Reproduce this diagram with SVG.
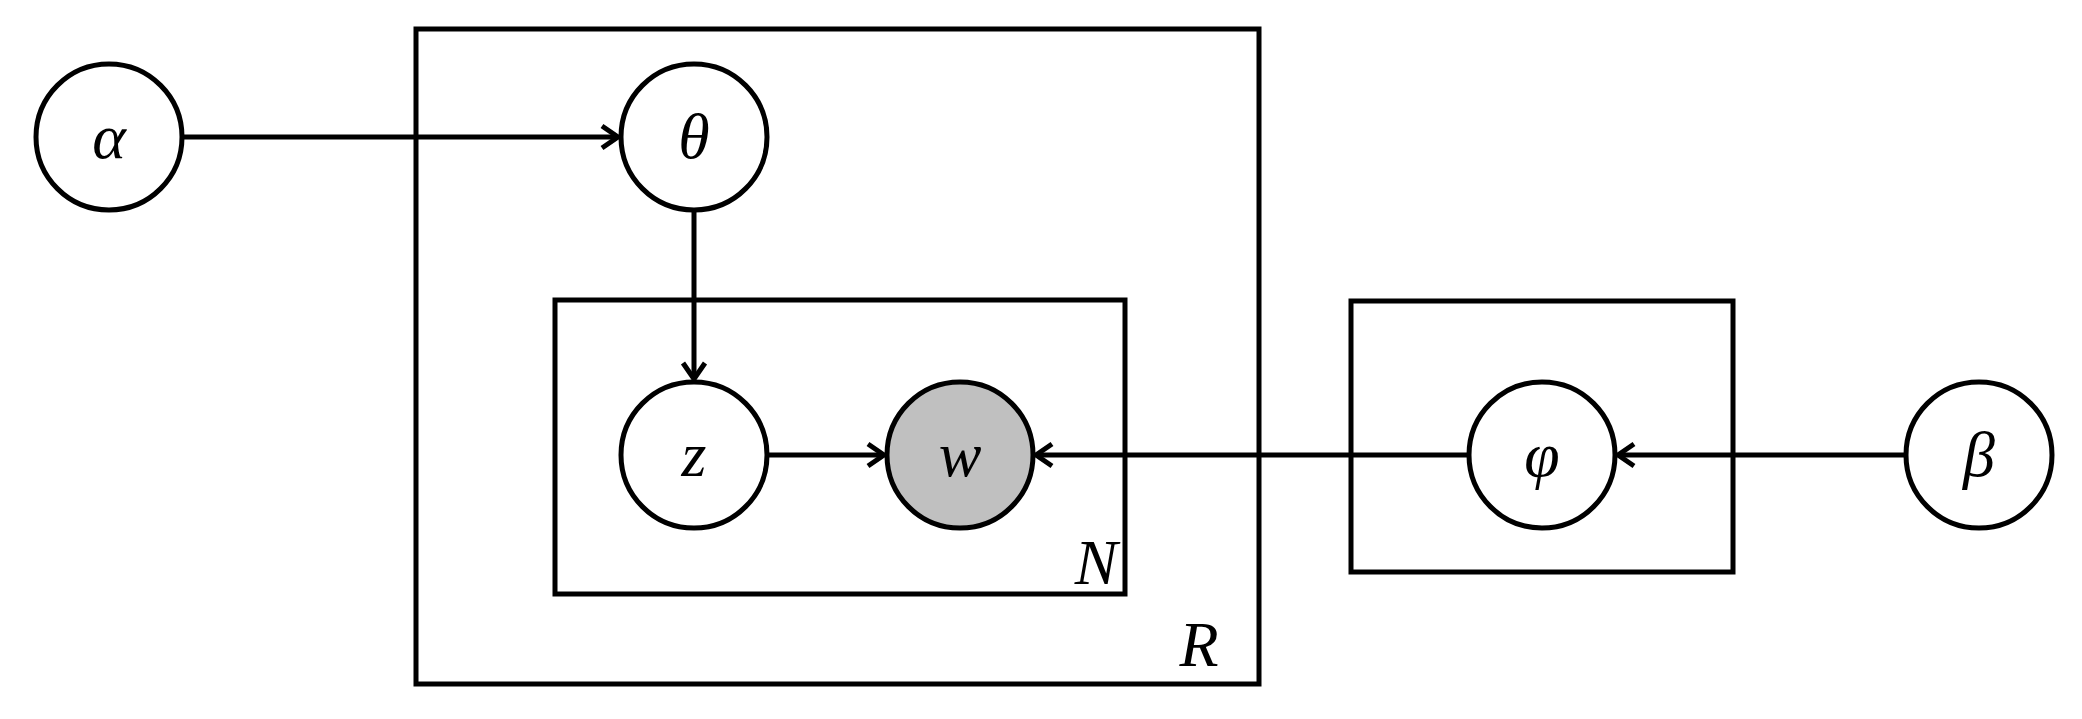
<svg xmlns="http://www.w3.org/2000/svg" width="2082" height="719" viewBox="0 0 2082 719">
<style>
.n{fill:#fff;stroke:#000;stroke-width:5}
.p{fill:none;stroke:#000;stroke-width:5}
.e{stroke:#000;stroke-width:5;fill:none;marker-end:url(#a)}
text{font-family:"Liberation Serif",serif;font-style:italic;font-size:64px;text-anchor:middle}
</style>
<defs><marker id="a" viewBox="-20 -14 24 28" refX="0" refY="0" markerWidth="24" markerHeight="28" orient="auto" markerUnits="userSpaceOnUse"><path d="M-16,-11 L0,0 L-16,11" fill="none" stroke="#000" stroke-width="5"/></marker></defs>
<g id="plateR"><rect class="p" x="416" y="29" width="843" height="655"/><text x="1199" y="666" font-size="54">R</text></g>
<g id="plateN"><rect class="p" x="555" y="300" width="570" height="294"/><text x="1096" y="584" font-size="54">N</text></g>
<g id="plateK"><rect class="p" x="1351" y="301" width="382" height="271"/></g>
<g id="edges">
<line class="e" x1="182" y1="137" x2="618" y2="137"/>
<line class="e" x1="694" y1="210" x2="694" y2="379"/>
<line class="e" x1="767" y1="455" x2="884" y2="455"/>
<line class="e" x1="1469" y1="455" x2="1036" y2="455"/>
<line class="e" x1="1906" y1="455" x2="1618" y2="455"/>
</g>
<g id="alpha"><circle class="n" cx="109" cy="137" r="73"/><text x="109" y="158">α</text></g>
<g id="theta"><circle class="n" cx="694" cy="137" r="73"/><text x="694" y="158">θ</text></g>
<g id="z"><circle class="n" cx="694" cy="455" r="73"/><text x="694" y="476">z</text></g>
<g id="w"><circle class="n" cx="960" cy="455" r="73" style="fill:#c0c0c0"/><text x="960" y="476">w</text></g>
<g id="phi"><circle class="n" cx="1542" cy="455" r="73"/><text x="1542" y="476">φ</text></g>
<g id="beta"><circle class="n" cx="1979" cy="455" r="73"/><text x="1979" y="476">β</text></g>
</svg>
